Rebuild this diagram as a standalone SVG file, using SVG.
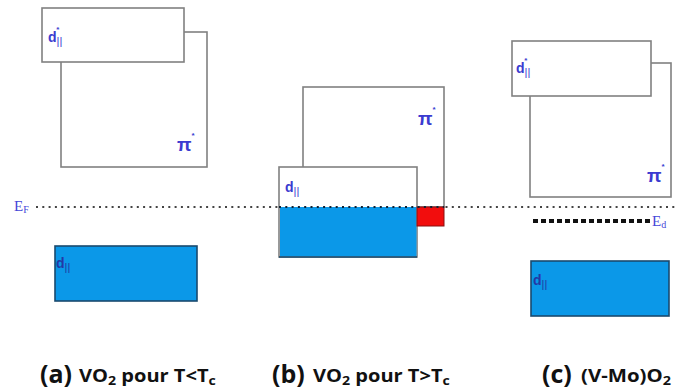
<svg xmlns="http://www.w3.org/2000/svg" width="676" height="391" viewBox="0 0 676 391">
<style>
.box{fill:#fff;stroke:#808080;stroke-width:1.6}
.blue{fill:#0b98e8;stroke:#1a4a6e;stroke-width:1.6}
.lbl{font-family:"Liberation Sans",Arial,sans-serif;font-weight:bold;fill:#3b3bd0;font-size:14px}
.pi{font-size:19px}
.sub{font-size:11px;font-weight:normal}
.sup{font-size:8px}
.ser{font-family:"Liberation Serif","Times New Roman",serif;fill:#4646d8}
.cap{font-family:"Open Sans","Liberation Sans",sans-serif;font-weight:bold;fill:#111}
.ef{stroke:#444;stroke-width:2;stroke-dasharray:2 4.3;fill:none}
</style>
<rect width="676" height="391" fill="#fff"/>
<g id="fermi-level">
  <line class="ef" x1="36" y1="207" x2="676" y2="207"/>
  <text class="ser" x="14" y="211" font-size="15">E<tspan font-size="10" dy="2">F</tspan></text>
</g>
<g id="panel-a">
  <g id="a-pi"><rect class="box" x="61" y="32" width="146" height="135"/>
    <text class="lbl" x="177" y="151"><tspan class="pi">π</tspan><tspan class="sup" dy="-13">*</tspan></text></g>
  <g id="a-d-star"><rect class="box" x="42" y="8" width="142" height="54"/>
    <text class="lbl" x="48" y="42">d<tspan class="sub" dy="3">||</tspan><tspan class="sup" dx="-6" dy="-13">*</tspan></text></g>
  <g id="a-d"><rect class="blue" x="55" y="246" width="142" height="55"/>
    <text class="lbl" x="56" y="268" style="fill:#2338a6">d<tspan class="sub" dy="3">||</tspan></text></g>
</g>
<g id="panel-b">
  <g id="b-pi"><rect class="box" x="303" y="87" width="141" height="120"/>
    <text class="lbl" x="418" y="125"><tspan class="pi">π</tspan><tspan class="sup" dy="-13">*</tspan></text></g>
  <g id="b-d"><rect class="box" x="279" y="167" width="138" height="90"/>
    <rect x="280" y="207" width="136.5" height="49.5" fill="#0b98e8"/>
    <line x1="279" y1="257" x2="417" y2="257" stroke="#1a4a6e" stroke-width="1.6"/>
    <text class="lbl" x="285" y="192">d<tspan class="sub" dy="3">||</tspan></text></g>
  <g id="b-red"><rect x="417" y="207" width="27" height="19" fill="#f20d0d" stroke="#8a1010" stroke-width="1"/></g>
  <line x1="279" y1="207" x2="444" y2="207" stroke="#123" stroke-width="2" stroke-dasharray="2 4.3"/>
</g>
<g id="panel-c">
  <g id="c-pi"><rect class="box" x="530" y="63" width="141" height="134"/>
    <text class="lbl" x="647" y="182"><tspan class="pi">π</tspan><tspan class="sup" dy="-13">*</tspan></text></g>
  <g id="c-d-star"><rect class="box" x="512" y="41" width="139" height="55"/>
    <text class="lbl" x="516" y="73">d<tspan class="sub" dy="3">||</tspan><tspan class="sup" dx="-6" dy="-13">*</tspan></text></g>
  <g id="c-ed"><line x1="533" y1="221" x2="652" y2="221" stroke="#111" stroke-width="4" stroke-dasharray="5 3"/>
    <text class="ser" x="652" y="226" font-size="15">E<tspan font-size="10" dy="2">d</tspan></text></g>
  <g id="c-d"><rect class="blue" x="531" y="261" width="138" height="55"/>
    <text class="lbl" x="533" y="285" style="fill:#2338a6">d<tspan class="sub" dy="3">||</tspan></text></g>
</g>
<g id="captions">
  <text class="cap" x="40" y="383" font-size="25">(a)</text>
  <text class="cap" transform="translate(79,382) scale(1.18,1)" font-size="17">VO<tspan font-size="12" dy="3">2</tspan><tspan dy="-3"> pour T&lt;T</tspan><tspan font-size="12" dy="3">c</tspan></text>
  <text class="cap" x="272" y="383" font-size="25">(b)</text>
  <text class="cap" transform="translate(313,382) scale(1.18,1)" font-size="17">VO<tspan font-size="12" dy="3">2</tspan><tspan dy="-3"> pour T&gt;T</tspan><tspan font-size="12" dy="3">c</tspan></text>
  <text class="cap" x="542" y="383" font-size="25">(c)</text>
  <text class="cap" transform="translate(581,382) scale(1.2,1)" font-size="17">(V-Mo)O<tspan font-size="12" dy="3">2</tspan></text>
</g>
</svg>
